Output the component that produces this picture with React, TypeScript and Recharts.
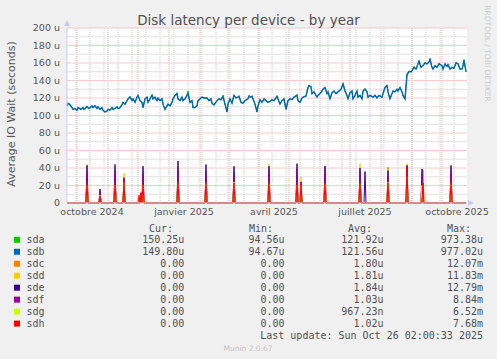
import React from 'react';
import { LineChart, Line, XAxis, YAxis, CartesianGrid } from 'recharts';

// ---- data ----
const days = [
  0, 1, 3, 5, 6, 8, 10, 11, 14, 16,
  17, 20, 22, 25, 26, 28, 30, 31, 33, 35,
  36, 38, 40, 41, 43, 45, 46, 48, 50, 51,
  53, 55, 56, 58, 60, 61, 63, 65, 66, 68,
  70, 71, 73, 75, 76, 78, 80, 81, 83, 85,
  86, 88, 90, 91, 93, 95, 96, 98, 100, 101,
  103, 105, 106, 108, 110, 111, 113, 115, 116, 118,
  120, 121, 123, 125, 126, 128, 130, 131, 133, 135,
  137, 140, 142, 144, 145, 147, 150, 152, 154, 156,
  158, 160, 161, 163, 165, 167, 169, 171, 172, 174,
  176, 178, 181, 182, 184, 185, 188, 190, 191, 193,
  195, 197, 199, 201, 203, 205, 207, 210, 211, 213,
  215, 217, 219, 221, 223, 225, 227, 230, 231, 233,
  235, 236, 239, 241, 242, 244, 245, 247, 250, 251,
  253, 255, 256, 258, 260, 261, 263, 265, 267, 269,
  271, 274, 276, 278, 280, 281, 283, 285, 286, 288,
  290, 291, 293, 295, 296, 298, 300, 301, 303, 306,
  308, 310, 312, 315, 316, 318, 320, 321, 323, 325,
  326, 328, 330, 331, 333, 335, 336, 338, 340, 342,
  344, 345, 347, 349, 351, 352, 354, 356, 358, 360,
  362, 363, 365, 366, 368, 370, 372, 375, 376, 378,
  380, 381, 383, 385, 387, 389, 391, 393, 395, 396,
  397, 399,
];

const sdaValues = [
  111, 114, 113, 109, 107, 108, 106, 109, 107, 109,
  107, 111, 108, 111, 109, 111, 108, 110, 107, 109,
  106, 104, 105, 107, 106, 109, 107, 108, 110, 108,
  109, 113, 115, 113, 117, 119, 122, 117, 119, 115,
  121, 123, 117, 115, 109, 119, 121, 115, 119, 124,
  119, 121, 117, 120, 117, 119, 113, 107, 111, 113,
  111, 115, 119, 123, 126, 119, 117, 121, 117, 119,
  123, 128, 115, 117, 109, 109, 111, 117, 119, 121,
  120, 120, 117, 119, 114, 112, 117, 119, 118, 123,
  113, 104, 113, 119, 114, 123, 120, 121, 122, 115,
  114, 117, 119, 123, 121, 122, 113, 104, 111, 118,
  115, 119, 117, 115, 116, 118, 117, 122, 119, 113,
  117, 119, 107, 117, 119, 118, 121, 124, 117, 115,
  120, 121, 123, 132, 135, 133, 125, 127, 121, 123,
  125, 128, 130, 132, 125, 127, 119, 126, 128, 125,
  127, 130, 137, 128, 123, 119, 126, 128, 119, 123,
  128, 121, 123, 119, 128, 131, 127, 121, 123, 121,
  123, 120, 123, 121, 125, 132, 135, 127, 119, 125,
  128, 127, 130, 128, 132, 127, 123, 119, 148, 151,
  150, 151, 156, 153, 159, 163, 155, 157, 161, 159,
  161, 165, 155, 153, 157, 155, 160, 157, 153, 159,
  156, 159, 153, 155, 154, 161, 159, 153, 153, 157,
  164, 150,
];

const sdbValues = [
  111, 114, 112, 109, 107, 108, 106, 109, 107, 109,
  107, 110, 108, 111, 109, 111, 108, 110, 107, 109,
  106, 104, 105, 107, 106, 109, 107, 108, 110, 108,
  109, 112, 115, 113, 117, 119, 121, 117, 119, 115,
  121, 123, 117, 115, 109, 119, 121, 115, 119, 123,
  119, 121, 117, 120, 117, 119, 113, 107, 111, 113,
  111, 115, 119, 123, 125, 119, 117, 121, 117, 119,
  123, 125, 115, 117, 109, 109, 111, 117, 119, 121,
  120, 120, 117, 119, 114, 112, 117, 119, 118, 122,
  113, 104, 113, 119, 114, 123, 120, 121, 122, 115,
  114, 117, 119, 122, 121, 122, 113, 104, 111, 118,
  115, 119, 117, 115, 116, 118, 117, 122, 119, 113,
  117, 119, 107, 117, 119, 118, 121, 123, 117, 115,
  120, 121, 122, 132, 134, 133, 125, 127, 121, 123,
  125, 128, 130, 132, 125, 127, 119, 126, 128, 125,
  127, 130, 136, 128, 123, 119, 126, 128, 119, 123,
  128, 121, 123, 119, 128, 130, 127, 121, 123, 121,
  123, 120, 123, 121, 125, 132, 134, 127, 119, 125,
  128, 127, 130, 128, 132, 127, 123, 119, 146, 150,
  150, 151, 155, 153, 159, 162, 155, 157, 160, 159,
  161, 164, 155, 153, 157, 155, 159, 157, 153, 159,
  156, 158, 153, 155, 154, 160, 159, 153, 153, 157,
  163, 150,
];

// spike series (zero elsewhere)
const spikeDays = [20, 33, 48, 57, 72, 74, 76, 111, 139, 167, 202, 230, 234, 258, 293, 298, 321, 340, 355, 356, 384];
const sdcSpikes = [30, 10, 32, 28, 0, 8, 30, 35, 32, 30, 35, 35, 25, 42, 35, 0, 41, 38, 0, 38, 35];
const sddSpikes = [44, 12, 38, 34, 0, 6, 35, 40, 38, 36, 45, 40, 30, 40, 45, 0, 38, 45, 30, 0, 40];
const sdeSpikes = [43, 16, 44, 29, 0, 9, 42, 48, 44, 42, 42, 45, 24, 42, 40, 36, 37, 43, 39, 0, 43];
const sdfSpikes = [35, 14, 36, 27, 0, 12, 33, 38, 35, 33, 36, 38, 22, 35, 36, 0, 30, 42, 32, 0, 36];
const sdgSpikes = [20, 9, 20, 24, 0, 9, 20, 22, 22, 24, 22, 20, 20, 22, 22, 0, 24, 30, 20, 0, 22];
const sdhSpikes = [23, 8, 23, 25, 9, 11, 22, 25, 24, 23, 25, 23, 23, 23, 25, 0, 23, 41, 0, 23, 25];

const dayCount = 400;

// axis ticks / grid
const labelDays = [25, 117, 207, 298, 390];
const labelNames = ['octobre 2024', 'janvier 2025', 'avril 2025', 'juillet 2025', 'octobre 2025'];
const monthStartDays = [10, 41, 71, 102, 133, 161, 192, 222, 253, 283, 314, 345, 375];
const minorDays = [9, 23, 37, 51, 65, 79, 93, 107, 121, 135, 149, 163, 177, 191, 205, 219, 233, 247, 261, 275, 289, 303, 317, 331, 345, 359, 373, 387];
const yTicks = [0, 20, 40, 60, 80, 100, 120, 140, 160, 180, 200];
const yMajorTicks = [20, 40, 60, 80, 100, 120, 140, 160, 180, 200];
const yMinorTicks = [10, 30, 50, 70, 90, 110, 130, 150, 170, 190];

// legend
const seriesNames = ['sda', 'sdb', 'sdc', 'sdd', 'sde', 'sdf', 'sdg', 'sdh'];
const seriesColors = ['#00CC00', '#0066B3', '#FF8000', '#FFCC00', '#330099', '#990099', '#CCFF00', '#FF0000'];
const curValues = ['150.25u', '149.80u', '0.00 ', '0.00 ', '0.00 ', '0.00 ', '0.00 ', '0.00 '];
const minValues = ['94.56u', '94.67u', '0.00 ', '0.00 ', '0.00 ', '0.00 ', '0.00 ', '0.00 '];
const avgValues = ['121.92u', '121.56u', '1.80u', '1.81u', '1.84u', '1.03u', '967.23n', '1.02u'];
const maxValues = ['973.38u', '977.02u', '12.07m', '11.83m', '12.79m', '8.84m', '6.52m', '7.68m'];
const lastUpdate = 'Last update: Sun Oct 26 02:00:33 2025';

// ---- tables built from the arrays ----
const sdaData = days.map((d, i) => ({ day: d, v: sdaValues[i] }));
const sdbData = days.map((d, i) => ({ day: d, v: sdbValues[i] }));
const spikeData = Array.from({ length: dayCount }, (_, d) => {
  const k = spikeDays.indexOf(d);
  return {
    day: d,
    sdc: k >= 0 ? sdcSpikes[k] : 0,
    sdd: k >= 0 ? sddSpikes[k] : 0,
    sde: k >= 0 ? sdeSpikes[k] : 0,
    sdf: k >= 0 ? sdfSpikes[k] : 0,
    sdg: k >= 0 ? sdgSpikes[k] : 0,
    sdh: k >= 0 ? sdhSpikes[k] : 0,
  };
});
// horizontal grid rows drawn through the y scale
const gridRow = (v: number) => [{ day: 0, g: v }, { day: dayCount, g: v }];

const W = 497;
const H = 359;
const PLOT_L = 67;
const PLOT_R = 467;
const PLOT_T = 28;
const PLOT_B = 203;

const sans = 'DejaVu Sans, sans-serif';
const mono = 'DejaVu Sans Mono, monospace';
const textColor = '#555555';
const minorGrid = '#cccccc';
const majorGrid = '#f0a8a8';

const fmtY = (v: number) => (v === 0 ? '0' : `${v} u`);
const fmtX = (v: number) => {
  const i = labelDays.indexOf(v);
  return i >= 0 ? labelNames[i] : '';
};

const noAnim = { dot: false, activeDot: false, isAnimationActive: false, strokeWidth: 1 } as const;

export default function App() {
  const rowY = (i: number) => 239.8 + 11.97 * i;
  return (
    <div style={{ position: 'absolute', left: 0, top: 0, width: W, height: H, background: '#F0F0F0', overflow: 'hidden' }}>
      <div style={{ position: 'absolute', left: PLOT_L, top: PLOT_T, width: PLOT_R - PLOT_L, height: PLOT_B - PLOT_T, background: '#FFFFFF' }} />
      <div style={{ position: 'absolute', left: 0, top: 0 }}>
        <LineChart width={W} height={H} margin={{ top: PLOT_T, right: W - PLOT_R, bottom: 136, left: 0 }}>
          <XAxis
            dataKey="day"
            type="number"
            domain={[0, dayCount]}
            ticks={labelDays}
            interval={0}
            tickFormatter={fmtX}
            height={20}
            tickLine={false}
            tickSize={5}
            tickMargin={0}
            axisLine={{ stroke: '#c8cbf0' }}
            tick={{ fill: textColor, fontSize: 9.5, fontFamily: sans }}
          />
          <YAxis
            type="number"
            domain={[0, 200]}
            ticks={yTicks}
            interval={0}
            tickFormatter={fmtY}
            width={PLOT_L}
            tickLine={false}
            tickSize={5}
            tickMargin={2}
            axisLine={{ stroke: '#c8cbf0' }}
            tick={{ fill: textColor, fontSize: 9.5, fontFamily: sans }}
          />
          <CartesianGrid
            stroke={minorGrid}
            strokeDasharray="1 1"
            horizontal={false}
            verticalValues={minorDays}
          />
          <CartesianGrid
            stroke={majorGrid}
            strokeDasharray="1 1"
            horizontal={false}
            verticalValues={monthStartDays}
          />
          {yMinorTicks.map((v) => (
            <Line key={`mi${v}`} data={gridRow(v)} dataKey="g" stroke="#e2e2e2" {...noAnim} />
          ))}
          {yMajorTicks.map((v) => (
            <Line key={`ma${v}`} data={gridRow(v)} dataKey="g" stroke="#f6cccc" {...noAnim} />
          ))}
          <Line data={sdaData} dataKey="v" stroke={seriesColors[0]} {...noAnim} />
          <Line data={sdbData} dataKey="v" stroke={seriesColors[1]} {...noAnim} strokeWidth={1.4} />
          <Line data={spikeData} dataKey="sdc" stroke={seriesColors[2]} {...noAnim} />
          <Line data={spikeData} dataKey="sdd" stroke={seriesColors[3]} {...noAnim} />
          <Line data={spikeData} dataKey="sde" stroke={seriesColors[4]} {...noAnim} />
          <Line data={spikeData} dataKey="sdf" stroke={seriesColors[5]} {...noAnim} />
          <Line data={spikeData} dataKey="sdg" stroke={seriesColors[6]} {...noAnim} />
          <Line data={spikeData} dataKey="sdh" stroke={seriesColors[7]} {...noAnim} />
        </LineChart>
      </div>
      <svg width={W} height={H} style={{ position: 'absolute', left: 0, top: 0, pointerEvents: 'none' }}>
        <text x={248.5} y={25} textAnchor="middle" fontFamily={sans} fontSize={13.5} fill="#505050">
          Disk latency per device - by year
        </text>
        <text
          transform={`translate(11, 114) rotate(-90)`}
          textAnchor="middle"
          dominantBaseline="central"
          fontFamily={sans}
          fontSize={11}
          fill={textColor}
        >
          Average IO Wait (seconds)
        </text>
        <text
          transform={`translate(487.5, 53.5) rotate(90)`}
          textAnchor="middle"
          dominantBaseline="central"
          fontFamily={sans}
          fontSize={7.5}
          fill="#cccccc"
        >
          RRDTOOL / TOBI OETIKER
        </text>
        {/* axis arrows */}
        <polygon points={`${PLOT_L - 3},${PLOT_T - 2} ${PLOT_L + 3},${PLOT_T - 2} ${PLOT_L},${PLOT_T - 8}`} fill="#c8cbf0" />
        <polygon points={`${PLOT_R + 1},${PLOT_B - 3} ${PLOT_R + 1},${PLOT_B + 3} ${PLOT_R + 7},${PLOT_B}`} fill="#c8cbf0" />
        {/* legend */}
        <g fontFamily={mono} fontSize={10} fill="#505050" style={{ whiteSpace: 'pre' }}>
          <text x={149} y={232}>Cur:</text>
          <text x={249} y={232}>Min:</text>
          <text x={348} y={232}>Avg:</text>
          <text x={447} y={232}>Max:</text>
          {seriesNames.map((name, i) => (
            <g key={name}>
              <rect x={14} y={rowY(i) - 3} width={6} height={6} fill={seriesColors[i]} />
              <text x={26.5} y={rowY(i) + 3.6}>{name}</text>
              <text x={184.3} y={rowY(i) + 3.6} textAnchor="end">{curValues[i]}</text>
              <text x={284.5} y={rowY(i) + 3.6} textAnchor="end">{minValues[i]}</text>
              <text x={383.5} y={rowY(i) + 3.6} textAnchor="end">{avgValues[i]}</text>
              <text x={483} y={rowY(i) + 3.6} textAnchor="end">{maxValues[i]}</text>
            </g>
          ))}
          <text x={483} y={339.3} textAnchor="end">{lastUpdate}</text>
        </g>
        <text x={248} y={351} textAnchor="middle" fontFamily={sans} fontSize={7.5} fill="#c4c4c4">
          Munin 2.0.67
        </text>
      </svg>
    </div>
  );
}
